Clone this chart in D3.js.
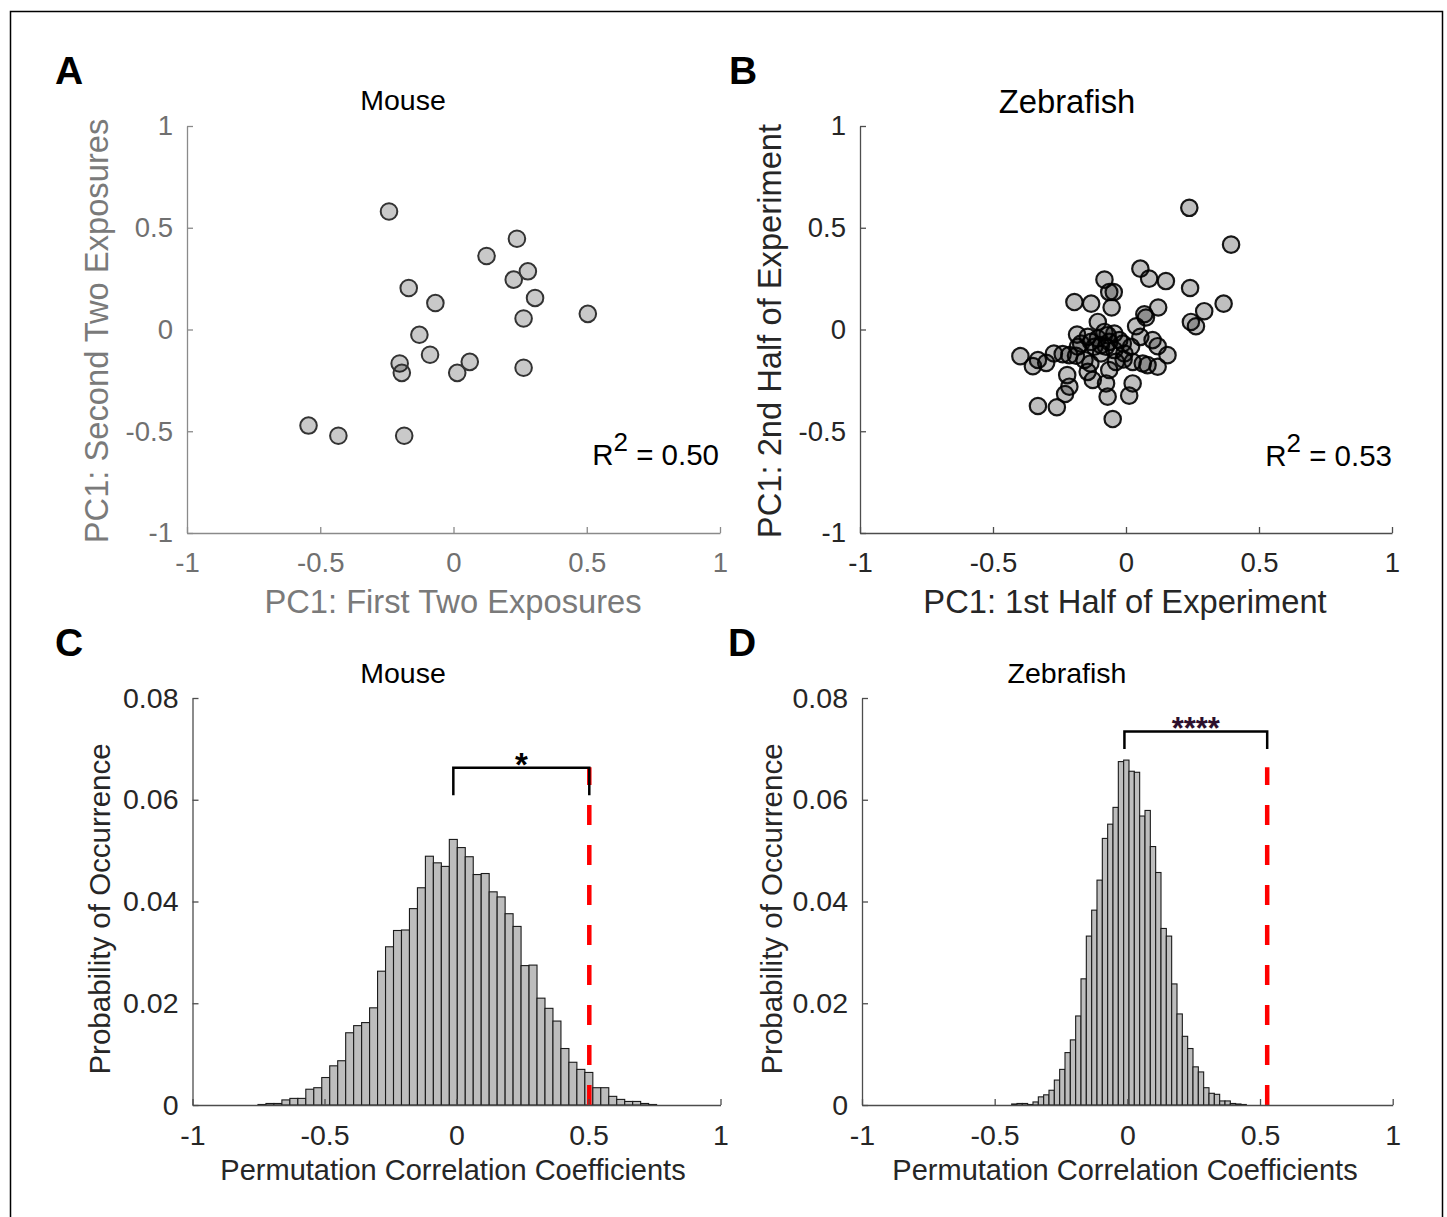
<!DOCTYPE html>
<html><head><meta charset="utf-8">
<script src="https://cdn.jsdelivr.net/npm/d3@7"></script>
<style>
body{margin:0;background:#fff}
svg{display:block}
text{font-family:"Liberation Sans",Arial,Helvetica,sans-serif}
</style>
</head><body>
<svg id="fig" width="1447" height="1217"></svg>
<script>
// ---------- data ----------
const axisTicks = [-1, -0.5, 0, 0.5, 1];
const probTicks = [0, 0.02, 0.04, 0.06, 0.08];

const mouseX = [-0.242, 0.238, 0.124, 0.279, 0.226, 0.306, 0.263, 0.504, -0.168, -0.068,
  -0.128, -0.088, -0.202, -0.194, 0.061, 0.014, 0.263, -0.544, -0.432, -0.185];
const mouseY = [0.580, 0.446, 0.361, 0.286, 0.245, 0.155, 0.054, 0.077, 0.204, 0.130,
  -0.026, -0.124, -0.167, -0.213, -0.159, -0.213, -0.188, -0.472, -0.522, -0.522];

const fishX = [0.238,0.395,0.054,0.087,0.150,0.241,0.367,0.294,0.244,0.263,
  -0.081,-0.063,-0.046,-0.054,-0.194,-0.131,0.121,0.069,0.075,0.038,
  -0.106,-0.184,0.054,0.100,0.119,0.156,-0.397,-0.331,-0.350,-0.300,
  -0.271,-0.238,-0.213,-0.188,-0.221,-0.213,-0.229,-0.331,-0.260,-0.050,
  0.025,0.012,-0.069,-0.075,-0.125,-0.144,-0.134,-0.063,0.081,0.119,
  0.025,-0.009,-0.038,0.019,-0.012,-0.106,-0.144,-0.044,-0.081,-0.119,
  -0.075,-0.044,-0.094,-0.131,-0.063,-0.025,-0.169,0.063,-0.069,-0.094,
  -0.006,-0.156,-0.181];
const fishY = [0.598,0.417,0.299,0.250,0.238,0.204,0.127,0.090,0.037,0.016,
  0.245,0.184,0.184,0.108,0.135,0.127,0.108,0.075,0.059,0.016,
  0.037,-0.025,-0.036,-0.052,-0.082,-0.126,-0.131,-0.150,-0.180,-0.164,
  -0.118,-0.121,-0.126,-0.129,-0.224,-0.281,-0.317,-0.376,-0.382,-0.440,
  -0.265,-0.325,-0.330,-0.265,-0.248,-0.208,-0.167,-0.199,-0.175,-0.183,
  -0.159,-0.147,-0.159,-0.085,-0.069,-0.044,-0.036,-0.020,-0.012,-0.085,
  -0.085,-0.101,-0.118,-0.061,-0.061,-0.052,-0.069,-0.167,-0.028,-0.077,
  -0.118,-0.150,-0.085];

const mouseR2 = "0.50";
const fishR2 = "0.53";

const mouseBinStart = -0.752, mouseBinWidth = 0.0302;
const mouseProb = [0.0001,0.0003,0.0003,0.0010,0.0013,0.0013,0.0031,0.0034,0.0054,0.0077,
  0.0087,0.0142,0.0156,0.0162,0.0191,0.0263,0.0311,0.0343,0.0344,0.0386,
  0.0427,0.0489,0.0476,0.0469,0.0522,0.0506,0.0488,0.0453,0.0455,0.0419,
  0.0409,0.0376,0.0351,0.0274,0.0275,0.0210,0.0190,0.0165,0.0111,0.0084,
  0.0070,0.0064,0.0034,0.0034,0.0017,0.0011,0.0007,0.0007,0.0003,0.0001];

const fishBinStart = -0.436, fishBinWidth = 0.0201;
const fishProb = [0.0002,0.0003,0.0003,0.0001,0.0006,0.0016,0.0020,0.0029,0.0049,0.0070,
  0.0103,0.0128,0.0175,0.0248,0.0332,0.0383,0.0442,0.0524,0.0552,0.0585,
  0.0675,0.0678,0.0656,0.0654,0.0568,0.0579,0.0508,0.0457,0.0347,0.0332,
  0.0238,0.0179,0.0135,0.0111,0.0075,0.0065,0.0034,0.0023,0.0021,0.0008,
  0.0008,0.0003,0.0002,0.0001];

const mouseObserved = 0.503, fishObserved = 0.527;
const redLineTop = 0.0664;
const mouseBracket = {x0: -0.012, x1: 0.503, top: 0.0663, leg: 0.0609, label: "*"};
const fishBracket = {x0: -0.011, x1: 0.527, top: 0.0734, leg: 0.0700, label: "****"};

// ---------- drawing ----------
const svg = d3.select("#fig");
svg.append("rect").attr("x", 0).attr("y", 0).attr("width", 1447).attr("height", 1217).attr("fill", "#fff");
svg.append("rect").attr("x", 10.5).attr("y", 11.5).attr("width", 1432).attr("height", 1230)
  .attr("fill", "none").attr("stroke", "#000").attr("stroke-width", 1.5);

const fmt = d => String(d);

function drawAxes(x, y, xt, yt, o) {
  const gx = svg.append("g").attr("transform", `translate(0,${y.range()[0]})`)
    .call(d3.axisBottom(x).tickValues(xt).tickFormat(fmt).tickSizeInner(-6).tickSizeOuter(0).tickPadding(o.xpad));
  const gy = svg.append("g").attr("transform", `translate(${x.range()[0]},0)`)
    .call(d3.axisLeft(y).tickValues(yt).tickFormat(fmt).tickSizeInner(-6).tickSizeOuter(0).tickPadding(o.ypad));
  [gx, gy].forEach(g => {
    g.attr("font-family", null).attr("font-size", null);
    g.selectAll("path, line").attr("stroke", o.axisColor).attr("stroke-width", 1.3);
    g.selectAll("text").attr("fill", o.textColor).style("font-size", o.tickSize + "px");
  });
}

function text(x, y, s, o) {
  const t = svg.append("text").attr("x", x).attr("y", y).text(s)
    .attr("text-anchor", o.anchor || "middle")
    .attr("fill", o.color || "#000")
    .style("font-size", o.size + "px");
  if (o.bold) t.attr("font-weight", "bold");
  if (o.rotate) t.attr("transform", `rotate(-90,${x},${y})`);
  return t;
}

function r2Text(xr, y, val, color) {
  const t = svg.append("text").attr("x", xr).attr("y", y).attr("text-anchor", "end")
    .attr("fill", color).style("font-size", "29.5px");
  t.append("tspan").text("R");
  t.append("tspan").text("2").attr("dy", -14).style("font-size", "26px");
  t.append("tspan").text(" = " + val).attr("dy", 14);
}

// Panel A
const xA = d3.scaleLinear([-1, 1], [187, 720]);
const yA = d3.scaleLinear([-1, 1], [533, 126]);
svg.append("g").selectAll("circle").data(d3.zip(mouseX, mouseY)).join("circle")
  .attr("cx", d => xA(d[0])).attr("cy", d => yA(d[1])).attr("r", 8.3)
  .attr("fill", "#000").attr("fill-opacity", 0.21)
  .attr("stroke", "#333").attr("stroke-width", 2);
drawAxes(xA, yA, axisTicks, axisTicks, {xpad: 19, ypad: 14, axisColor: "#8a8a8a", textColor: "#707070", tickSize: 27.5});
text(453, 613, "PC1: First Two Exposures", {size: 32.7, color: "#7a7a7a"});
text(108, 331, "PC1: Second Two Exposures", {size: 32.7, color: "#7a7a7a", rotate: true});
text(403, 110, "Mouse", {size: 28.5});
r2Text(719, 465, mouseR2, "#000");
text(55, 84, "A", {size: 39, bold: true, anchor: "start"});

// Panel B
const xB = d3.scaleLinear([-1, 1], [860, 1392]);
const yB = d3.scaleLinear([-1, 1], [533, 126]);
svg.append("g").selectAll("circle").data(d3.zip(fishX, fishY)).join("circle")
  .attr("cx", d => xB(d[0])).attr("cy", d => yB(d[1])).attr("r", 8.2)
  .attr("fill", "#000").attr("fill-opacity", 0.25)
  .attr("stroke", "#000").attr("stroke-width", 2.2).attr("stroke-opacity", 0.9);
drawAxes(xB, yB, axisTicks, axisTicks, {xpad: 19, ypad: 14, axisColor: "#4d4d4d", textColor: "#262626", tickSize: 27.5});
text(1125, 613, "PC1: 1st Half of Experiment", {size: 32.7, color: "#262626"});
text(781, 331, "PC1: 2nd Half of Experiment", {size: 32.7, color: "#262626", rotate: true});
text(1067, 113, "Zebrafish", {size: 32.8});
r2Text(1392, 466, fishR2, "#000");
text(729, 84, "B", {size: 39, bold: true, anchor: "start"});

// Histogram panels
function histPanel(x, y, start, width, probs, observed, br, o) {
  svg.append("g").selectAll("rect").data(probs).join("rect")
    .attr("x", (d, i) => x(start + i * width))
    .attr("width", (d, i) => x(start + (i + 1) * width) - x(start + i * width))
    .attr("y", d => y(d)).attr("height", d => y(0) - y(d))
    .attr("fill", "#bdbdbd").attr("stroke", "#1a1a1a").attr("stroke-width", 1.1);
  svg.append("line").attr("x1", x(observed)).attr("x2", x(observed))
    .attr("y1", y(0)).attr("y2", y(redLineTop))
    .attr("stroke", "#ff0000").attr("stroke-width", 4.5).attr("stroke-dasharray", "20,20");
  svg.append("path")
    .attr("d", `M${x(br.x0)},${y(br.leg)}V${y(br.top)}H${x(br.x1)}V${y(br.leg)}`)
    .attr("fill", "none").attr("stroke", "#000").attr("stroke-width", 2.5);
  text((x(br.x0) + x(br.x1)) / 2, o.starY, br.label, {size: o.starSize, bold: true, color: o.starColor});
  drawAxes(x, y, axisTicks, probTicks, {xpad: 20, ypad: 14, axisColor: "#4d4d4d", textColor: "#262626", tickSize: 28.5});
}

const xC = d3.scaleLinear([-1, 1], [192.5, 720.5]);
const yC = d3.scaleLinear([0, 0.08], [1105, 698]);
histPanel(xC, yC, mouseBinStart, mouseBinWidth, mouseProb, mouseObserved, mouseBracket,
  {starY: 776, starSize: 33, starColor: "#000"});
text(453, 1180, "Permutation Correlation Coefficients", {size: 29, color: "#262626"});
text(110, 909, "Probability of Occurrence", {size: 29.5, color: "#262626", rotate: true});
text(403, 683, "Mouse", {size: 28.5});
text(55, 656, "C", {size: 39, bold: true, anchor: "start"});

const xD = d3.scaleLinear([-1, 1], [862, 1392.7]);
const yD = d3.scaleLinear([0, 0.08], [1105, 698]);
histPanel(xD, yD, fishBinStart, fishBinWidth, fishProb, fishObserved, fishBracket,
  {starY: 739, starSize: 31, starColor: "#2d102d"});
text(1125, 1180, "Permutation Correlation Coefficients", {size: 29, color: "#262626"});
text(782, 909, "Probability of Occurrence", {size: 29.5, color: "#262626", rotate: true});
text(1067, 683, "Zebrafish", {size: 28.5});
text(728, 656, "D", {size: 39, bold: true, anchor: "start"});
</script>
</body></html>
